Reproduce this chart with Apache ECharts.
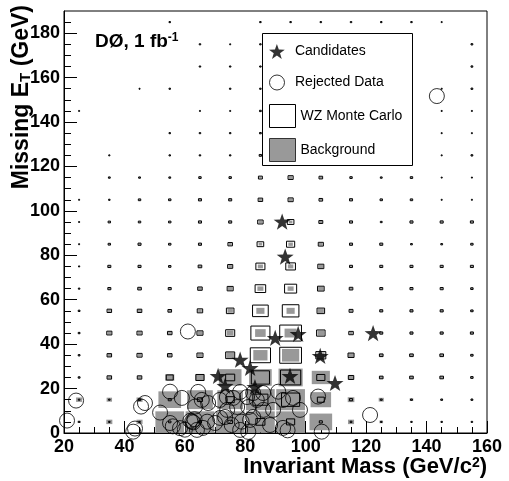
<!DOCTYPE html>
<html>
<head>
<meta charset="utf-8">
<script src="https://cdn.jsdelivr.net/npm/echarts@6/dist/echarts.min.js"></script>
<style>html,body{margin:0;padding:0;background:#fff}#c{width:509px;height:481px}</style>
</head>
<body>
<div id="c"></div>
<script>
// ---- data ----
const xCenters = [25,35,45,55,65,75,85,95,105,115,125,135,145,155];
const yCenters = [5,15,25,35,45,55,65,75,85,95,105,115,125,135,145,155,165,175,185];
const xTicks = [20,40,60,80,100,120,140,160];
const yTicks = [0,20,40,60,80,100,120,140,160,180];
const yMinorTicks = [5,10,15,25,30,35,45,50,55,65,70,75,85,90,95,105,110,115,125,130,135,145,150,155,165,170,175,185];

// background box size (fraction of bin), rows = yCenters, cols = xCenters
const bgGrid = [
[0.10,0.20,0.20,0.95,0.95,0.95,0.95,0.95,0.75,0.20,0.12,0.05,0.05,0.05],
[0.20,0.18,0.20,0.75,0.85,0.85,0.95,0.95,0.68,0.22,0.17,0.12,0.08,0.08],
[0.08,0.12,0.12,0.30,0.30,0.75,0.75,0.80,0.60,0.18,0.12,0.12,0.12,0.08],
[0.06,0.12,0.12,0.12,0.15,0.25,0.47,0.57,0.25,0.18,0.12,0.12,0.12,0.08],
[0.06,0.12,0.12,0.12,0.15,0.22,0.35,0.40,0.22,0.10,0.10,0.10,0.10,0.10],
[0.06,0.10,0.12,0.10,0.12,0.18,0.27,0.27,0.20,0.10,0.10,0.10,0.10,0.08],
[0.05,0.08,0.10,0.08,0.12,0.15,0.20,0.20,0.18,0.10,0.08,0.08,0.08,0.08],
[0.04,0.08,0.08,0.06,0.10,0.12,0.17,0.18,0.15,0.08,0.08,0.08,0.08,0.08],
[0.03,0.06,0.08,0.06,0.08,0.10,0.12,0.15,0.12,0.08,0.08,0.05,0.05,0.06],
[0.03,0.06,0.06,0.06,0.08,0.08,0.12,0.12,0.10,0.08,0.05,0.08,0.08,0.08],
[0.02,0.04,0.06,0.06,0.08,0.08,0.10,0.12,0.08,0.08,0.06,0.06,0.03,0.03],
[0.00,0.05,0.05,0.05,0.06,0.06,0.08,0.12,0.08,0.06,0.05,0.06,0.03,0.03],
[0.00,0.04,0.00,0.05,0.05,0.05,0.08,0.08,0.06,0.05,0.05,0.05,0.03,0.06],
[0.00,0.00,0.00,0.05,0.05,0.05,0.06,0.06,0.05,0.05,0.05,0.05,0.03,0.03],
[0.03,0.00,0.00,0.00,0.03,0.03,0.06,0.05,0.05,0.05,0.05,0.05,0.03,0.03],
[0.00,0.00,0.03,0.05,0.00,0.05,0.05,0.05,0.05,0.05,0.05,0.05,0.03,0.06],
[0.00,0.00,0.00,0.00,0.05,0.05,0.05,0.05,0.05,0.05,0.05,0.05,0.00,0.06],
[0.00,0.00,0.00,0.00,0.05,0.03,0.05,0.05,0.05,0.05,0.05,0.05,0.00,0.06],
[0.00,0.00,0.00,0.05,0.00,0.00,0.05,0.05,0.05,0.05,0.05,0.05,0.03,0.00]
];
// WZ Monte Carlo box size (fraction of bin)
const wzGrid = [
[0.05,0.05,0.05,0.08,0.10,0.15,0.30,0.27,0.10,0.06,0.05,0.05,0.05,0.05],
[0.05,0.05,0.08,0.10,0.17,0.27,0.50,0.60,0.23,0.10,0.06,0.06,0.06,0.06],
[0.06,0.15,0.15,0.23,0.27,0.30,0.60,0.67,0.27,0.18,0.12,0.12,0.12,0.08],
[0.06,0.15,0.17,0.15,0.20,0.30,0.67,0.72,0.33,0.20,0.12,0.12,0.12,0.08],
[0.06,0.17,0.17,0.15,0.20,0.30,0.63,0.72,0.28,0.15,0.10,0.10,0.10,0.10],
[0.06,0.15,0.15,0.12,0.18,0.25,0.52,0.55,0.25,0.13,0.10,0.10,0.10,0.08],
[0.05,0.10,0.12,0.10,0.15,0.20,0.35,0.40,0.22,0.12,0.10,0.10,0.10,0.08],
[0.04,0.10,0.10,0.08,0.12,0.17,0.30,0.32,0.20,0.10,0.10,0.10,0.10,0.10],
[0.03,0.08,0.10,0.08,0.10,0.15,0.22,0.27,0.17,0.10,0.10,0.06,0.06,0.08],
[0.03,0.08,0.08,0.08,0.10,0.10,0.18,0.22,0.13,0.10,0.06,0.10,0.10,0.10],
[0.02,0.05,0.08,0.08,0.10,0.10,0.15,0.17,0.12,0.10,0.08,0.08,0.03,0.03],
[0.00,0.06,0.06,0.06,0.08,0.08,0.13,0.17,0.12,0.08,0.06,0.08,0.03,0.03],
[0.00,0.04,0.00,0.05,0.05,0.05,0.08,0.08,0.06,0.05,0.05,0.05,0.03,0.06],
[0.00,0.00,0.00,0.05,0.05,0.05,0.06,0.06,0.05,0.05,0.05,0.05,0.03,0.03],
[0.03,0.00,0.00,0.00,0.03,0.03,0.06,0.05,0.05,0.05,0.05,0.05,0.03,0.03],
[0.00,0.00,0.03,0.05,0.00,0.05,0.05,0.05,0.05,0.05,0.05,0.05,0.03,0.06],
[0.00,0.00,0.00,0.00,0.05,0.05,0.05,0.05,0.05,0.05,0.05,0.05,0.00,0.06],
[0.00,0.00,0.00,0.00,0.05,0.03,0.05,0.05,0.05,0.05,0.05,0.05,0.00,0.06],
[0.00,0.00,0.00,0.05,0.00,0.00,0.05,0.05,0.05,0.05,0.05,0.05,0.03,0.00]
];

const candidates = [
[71,25.7],[73.3,21.2],[78.3,33],[81.6,29.3],[83.2,20.7],[93.2,79.4],[92.2,95.2],
[89.9,42.8],[97.5,44.6],[104.8,34.7],[94.8,25.7],[109.7,22.5],[122.3,45]
];
const rejected = [
[21,5.6],[24,14.6],[42.9,0.6],[43.5,2],[45.5,11.9],[46.8,13.5],[51.8,9.2],[55.1,18.6],
[55.1,4.5],[56,3],[59,15.8],[58.4,2.2],[60,1.5],[61,45.7],[64.4,18.5],[62.4,5.1],
[61.8,5.5],[62.8,4.8],[63.2,6.2],[64,1.4],[67.7,13.5],[67.4,5.1],[70,4.5],[71.6,14.9],
[73.9,16.2],[76,15.8],[77.3,11.7],[78.3,18.5],[80.6,16.2],[78.3,1.4],[81,0.5],[82.6,7.2],
[63.4,11.9],[65.6,14.9],[66,2.3],[71.7,6.8],[73.3,7.2],[75.5,3.6],[74,10.4],[81,11.7],
[81.6,5.9],[82.6,18],[83.8,14.9],[85.9,18],[90.9,18.6],[92.5,14.9],[95.8,15.8],[98.1,10.4],
[104.1,16.4],[86,10.4],[89.2,10.4],[78.8,5.1],[88.2,3.6],[92.5,2.3],[94,1.2],[105.3,0.6],
[121.3,8.1],[143.4,151.7]
];

// ---- build ----
function gridData(grid){
  const out = [];
  for (let j = 0; j < yCenters.length; j++)
    for (let i = 0; i < xCenters.length; i++)
      if (grid[j][i] > 0) out.push([xCenters[i], yCenters[j], grid[j][i]]);
  return out;
}
function boxRenderer(filled){
  return function(params, api){
    const f = api.value(2);
    const c = api.coord([api.value(0), api.value(1)]);
    const s = api.size([10, 10]);
    const w = Math.max(s[0]*f, 1), h = Math.max(s[1]*f, 1);
    return {
      type: 'rect',
      shape: {x: c[0]-w/2, y: c[1]-h/2, width: w, height: h},
      style: filled ? {fill: '#999999'} : {fill: 'none', stroke: '#000', lineWidth: 1}
    };
  };
}
const FONT = 'Liberation Sans, Arial, sans-serif';
const star = 'path://M0,-10 L2.35,-3.24 L9.51,-3.09 L3.8,1.24 L5.88,8.09 L0,4 L-5.88,8.09 L-3.8,1.24 L-9.51,-3.09 L-2.35,-3.24 Z';

const chart = echarts.init(document.getElementById('c'), null, {renderer: 'canvas'});
chart.setOption({
  animation: false,
  backgroundColor: '#fff',
  title: {
    text: '{a|DØ, 1 fb}{s|-1}',
    left: 95, top: 32, padding: 0,
    textStyle: {
      rich: {
        a: {fontFamily: FONT, fontWeight: 'bold', fontSize: 19, color: '#000'},
        s: {fontFamily: FONT, fontWeight: 'bold', fontSize: 12, color: '#000', verticalAlign: 'top'}
      }
    }
  },
  grid: {left: 64, right: 22, top: 11, bottom: 48, show: true, borderColor: '#000', borderWidth: 1,
         backgroundColor: 'transparent', containLabel: false, outerBoundsMode: 'none'},
  xAxis: {
    type: 'value', min: 20, max: 160, interval: 20,
    nameMoveOverlap: false,
    axisLine: {lineStyle: {color: '#000', width: 1}},
    axisTick: {inside: true, length: 12, lineStyle: {color: '#000'}},
    minorTick: {show: true, splitNumber: 4, length: 6, lineStyle: {color: '#000'}},
    splitLine: {show: false},
    axisLabel: {
      customValues: xTicks,
      color: '#000', fontFamily: FONT, fontWeight: 'bold', fontSize: 18, margin: 5
    },
    name: '{b|Invariant Mass (GeV/c}{s|2}{b|)}',
    nameLocation: 'end', nameGap: 0,
    nameTextStyle: {
      align: 'right', verticalAlign: 'top', padding: [23, 0, 0, 0],
      rich: {
        b: {fontFamily: FONT, fontWeight: 'bold', fontSize: 22, color: '#000'},
        s: {fontFamily: FONT, fontWeight: 'bold', fontSize: 14, color: '#000', verticalAlign: 'top'}
      }
    }
  },
  yAxis: [{
    type: 'value', min: 0, max: 190,
    nameMoveOverlap: false,
    axisLine: {show: true, lineStyle: {color: '#000', width: 1}},
    axisTick: {inside: true, length: 13, customValues: yTicks, lineStyle: {color: '#000'}},
    splitLine: {show: false},
    axisLabel: {
      customValues: yTicks,
      color: '#000', fontFamily: FONT, fontWeight: 'bold', fontSize: 18, margin: 4
    },
    name: '{b|Missing E}{t|T}{b| (GeV)}',
    nameLocation: 'start', nameRotate: 90, nameGap: -428,
    nameTextStyle: {
      verticalAlign: 'bottom', padding: [0, 0, 31, 0],
      rich: {
        b: {fontFamily: FONT, fontWeight: 'bold', fontSize: 23, color: '#000'},
        t: {fontFamily: FONT, fontWeight: 'bold', fontSize: 15, color: '#000', verticalAlign: 'bottom'}
      }
    }
  }, {
    type: 'value', min: 0, max: 190, position: 'left', offset: 0,
    axisLine: {show: false},
    axisTick: {show: true, inside: true, length: 7, customValues: yMinorTicks, lineStyle: {color: '#000'}},
    axisLabel: {show: false},
    splitLine: {show: false}
  }],
  legend: [{
    data: [{name: 'Candidates', icon: star}],
    left: 269, top: 44, itemWidth: 26, itemHeight: 15, padding: 0,
    selectedMode: false, z: 6,
    textStyle: {fontFamily: FONT, fontSize: 14, color: '#000'}
  }, {
    data: [{name: 'Rejected Data', icon: 'circle', itemStyle: {color: '#fff', borderColor: '#000', borderWidth: 1}}],
    left: 269, top: 74.5, itemWidth: 26, itemHeight: 15, padding: 0,
    selectedMode: false, z: 6,
    textStyle: {fontFamily: FONT, fontSize: 14, color: '#000'}
  }, {
    data: [
      {name: 'WZ Monte Carlo', icon: 'rect', itemStyle: {color: '#fff', borderColor: '#000', borderWidth: 1}},
      {name: 'Background', icon: 'rect', itemStyle: {color: '#999999', borderColor: '#333', borderWidth: 1}}
    ],
    orient: 'vertical', left: 269, top: 104, itemWidth: 26, itemHeight: 23, itemGap: 10, padding: 0,
    selectedMode: false, z: 6,
    textStyle: {fontFamily: FONT, fontSize: 14, color: '#000'}
  }],
  graphic: [{
    type: 'rect', z: 5,
    shape: {x: 262.5, y: 33.5, width: 150, height: 132},
    style: {fill: '#fff', stroke: '#000', lineWidth: 1}
  }],
  series: [{
    name: 'Background', type: 'custom', coordinateSystem: 'cartesian2d',
    renderItem: boxRenderer(true), encode: {x: 0, y: 1}, data: gridData(bgGrid), z: 1, silent: true
  }, {
    name: 'WZ Monte Carlo', type: 'custom', coordinateSystem: 'cartesian2d',
    renderItem: boxRenderer(false), encode: {x: 0, y: 1}, data: gridData(wzGrid), z: 2, silent: true
  }, {
    name: 'Rejected Data', type: 'scatter', data: rejected, symbol: 'circle', symbolSize: 15,
    itemStyle: {color: 'rgba(0,0,0,0)', borderColor: '#000', borderWidth: 1}, z: 3, silent: true
  }, {
    name: 'Candidates', type: 'scatter', data: candidates, symbol: star, symbolSize: 17, symbolKeepAspect: true,
    itemStyle: {color: '#000'}, z: 4, silent: true
  }]
});
</script>
</body>
</html>
